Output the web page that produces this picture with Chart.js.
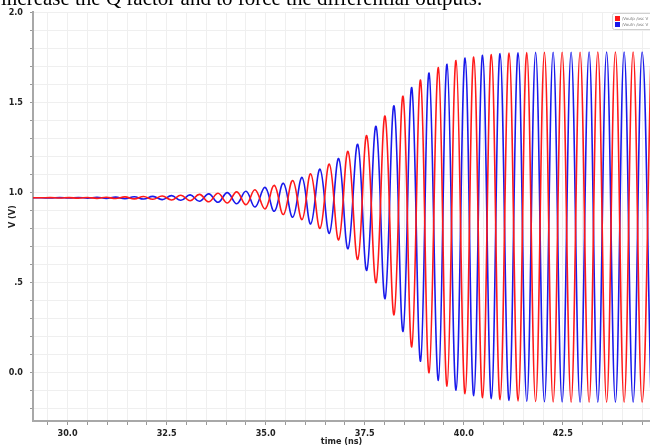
<!DOCTYPE html>
<html>
<head>
<meta charset="utf-8">
<script src="https://cdn.jsdelivr.net/npm/chart.js@4/dist/chart.umd.min.js"></script>
<style>
  html, body { margin: 0; padding: 0; background: #fff; overflow: hidden; }
  #wrap { position: relative; width: 650px; height: 447px; }
  #chart { position: absolute; left: 0; top: 0; }
  #caption {
    position: absolute; left: 1px; top: -12px; white-space: nowrap;
    font-family: "Liberation Serif", serif; font-size: 21px; line-height: 21px; color: #000;
  }
  #rule { position: absolute; left: 292px; top: 8px; width: 145px; height: 1px; background: #ccc; }
</style>
</head>
<body>
<div id="wrap">
  <canvas id="chart" width="650" height="447"></canvas>
  <div id="caption">increase the Q factor and to force the differential outputs.</div>
  <div id="rule"></div>
</div>
<script>
// times (ns) of each peak / trough
const timeNs = [
  29.099, 29.334, 29.569, 29.804, 30.039, 30.274, 30.509, 30.744, 30.979, 31.214,
  31.449, 31.684, 31.919, 32.154, 32.389, 32.624, 32.859, 33.094, 33.329, 33.564,
  33.799, 34.034, 34.269, 34.504, 34.731, 34.983, 35.218, 35.446, 35.683, 35.918,
  36.137, 36.372, 36.607, 36.844, 37.079, 37.324, 37.551, 37.786, 38.013, 38.240,
  38.467, 38.687, 38.909, 39.124, 39.359, 39.578, 39.805, 40.033, 40.252, 40.475,
  40.697, 40.916, 41.144, 41.371, 41.590, 41.813, 42.035, 42.255, 42.482, 42.709,
  42.935, 43.163, 43.383, 43.605, 43.827, 44.047, 44.274, 44.501, 44.728
];

// red trace (V)
const redV = [
  0.970, 0.970, 0.971, 0.969, 0.971, 0.968, 0.972, 0.967, 0.973, 0.966,
  0.975, 0.964, 0.977, 0.962, 0.980, 0.958, 0.984, 0.954, 0.989, 0.948,
  0.995, 0.941, 1.003, 0.932, 1.015, 0.908, 1.039, 0.877, 1.066, 0.849,
  1.103, 0.800, 1.157, 0.736, 1.227, 0.628, 1.315, 0.499, 1.424, 0.320,
  1.534, 0.142, 1.624, -0.002, 1.693, -0.076, 1.733, -0.118, 1.752, -0.140,
  1.766, -0.151, 1.774, -0.159, 1.777, -0.162, 1.778, -0.164, 1.779, -0.165,
  1.779, -0.165, 1.780, -0.165, 1.780, -0.165, 1.780, -0.165, 1.780
];

// blue trace (V)
const blueV = [
  0.970, 0.970, 0.969, 0.971, 0.969, 0.972, 0.968, 0.973, 0.967, 0.974,
  0.965, 0.976, 0.963, 0.978, 0.960, 0.982, 0.956, 0.986, 0.951, 0.992,
  0.945, 0.999, 0.937, 1.006, 0.919, 1.028, 0.895, 1.051, 0.862, 1.083,
  0.825, 1.129, 0.773, 1.188, 0.687, 1.267, 0.567, 1.367, 0.410, 1.481,
  0.228, 1.582, 0.062, 1.663, -0.044, 1.712, -0.099, 1.746, -0.129, 1.762,
  -0.146, 1.771, -0.156, 1.776, -0.161, 1.778, -0.163, 1.779, -0.164, 1.779,
  -0.165, 1.780, -0.165, 1.780, -0.165, 1.780, -0.165, 1.780, -0.165
];

const seriesNames = ["/Voutp /osc V", "/Voutn /osc V"];

// axis ticks
const xTickVals = [29.5, 30, 30.5, 31, 31.5, 32, 32.5, 33, 33.5, 34, 34.5, 35, 35.5, 36, 36.5,
  37, 37.5, 38, 38.5, 39, 39.5, 40, 40.5, 41, 41.5, 42, 42.5, 43, 43.5, 44, 44.5];
const xMajor = [30, 32.5, 35, 37.5, 40, 42.5];
const xMajorLabels = ["30.0", "32.5", "35.0", "37.5", "40.0", "42.5"];

const yTickVals = [-0.2, -0.1, 0, 0.1, 0.2, 0.3, 0.4, 0.5, 0.6, 0.7, 0.8, 0.9, 1.0,
  1.1, 1.2, 1.3, 1.4, 1.5, 1.6, 1.7, 1.8, 1.9, 2.0];
const yMajor = [0, 0.5, 1.0, 1.5, 2.0];
const yMajorLabels = ["0.0", ".5", "1.0", "1.5", "2.0"];

function labelFor(v, majors, labels) {
  const i = majors.findIndex(m => Math.abs(m - v) < 1e-6);
  return i >= 0 ? labels[i] : "";
}

const tickFont = { family: "'Liberation Sans Narrow', 'DejaVu Sans Condensed', sans-serif", size: 9, weight: "bold" };

// little legend box in the top right corner
const cornerLegend = {
  id: "cornerLegend",
  afterDraw(chart) {
    const ctx = chart.ctx;
    ctx.save();
    ctx.fillStyle = "#fff";
    ctx.strokeStyle = "#d0d0d0";
    ctx.lineWidth = 1;
    ctx.beginPath();
    ctx.roundRect(612.5, 13.5, 60, 16, 2);
    ctx.fill();
    ctx.stroke();
    chart.data.datasets.forEach((ds, i) => {
      const y = 16 + i * 6;
      ctx.fillStyle = ds.borderColor;
      ctx.fillRect(615, y, 5, 5);
      ctx.fillStyle = "#777";
      ctx.font = "4px 'DejaVu Sans'";
      ctx.textBaseline = "middle";
      ctx.fillText(ds.label, 622, y + 2.5);
    });
    ctx.restore();
  }
};

const ctx = document.getElementById("chart").getContext("2d");

new Chart(ctx, {
  type: "line",
  data: {
    labels: timeNs,
    datasets: [
      {
        label: seriesNames[0],
        data: timeNs.map((t, i) => ({ x: t, y: redV[i] })),
        borderColor: "rgb(255,25,25)",
        borderWidth: 1.6,
        pointRadius: 0,
        tension: 0.4,
        fill: false
      },
      {
        label: seriesNames[1],
        data: timeNs.map((t, i) => ({ x: t, y: blueV[i] })),
        borderColor: "rgb(25,25,235)",
        borderWidth: 1.6,
        pointRadius: 0,
        tension: 0.4,
        fill: false
      }
    ]
  },
  options: {
    responsive: false,
    animation: false,
    devicePixelRatio: 1,
    layout: { padding: { top: 10, right: 0, left: 0, bottom: 0 } },
    plugins: {
      legend: { display: false },
      tooltip: { enabled: false }
    },
    scales: {
      x: {
        type: "linear",
        min: 29.127,
        max: 44.70,
        afterBuildTicks: s => { s.ticks = xTickVals.map(v => ({ value: v })); },
        afterFit: s => { s.height = 26; },
        grid: { color: "#efefef", tickColor: "#999", tickLength: 4 },
        border: { color: "#a8a8a8", width: 2 },
        ticks: {
          autoSkip: false,
          maxRotation: 0,
          padding: 3,
          color: "#222",
          font: tickFont,
          callback: v => labelFor(v, xMajor, xMajorLabels)
        },
        title: {
          display: true,
          text: "time (ns)",
          color: "#222",
          font: tickFont,
          padding: { top: 0, bottom: 0 }
        }
      },
      y: {
        type: "linear",
        min: -0.27,
        max: 2.0,
        afterBuildTicks: s => { s.ticks = yTickVals.map(v => ({ value: v })); },
        afterFit: s => { s.width = 33; },
        grid: { color: "#efefef", tickColor: "#999", tickLength: 3 },
        border: { color: "#a8a8a8", width: 2 },
        ticks: {
          autoSkip: false,
          padding: 7,
          color: "#222",
          font: tickFont,
          callback: v => labelFor(v, yMajor, yMajorLabels)
        },
        title: {
          display: true,
          text: "V (V)",
          color: "#222",
          font: tickFont,
          padding: { top: 7, bottom: 0 }
        }
      }
    }
  },
  plugins: [cornerLegend]
});
</script>
</body>
</html>
